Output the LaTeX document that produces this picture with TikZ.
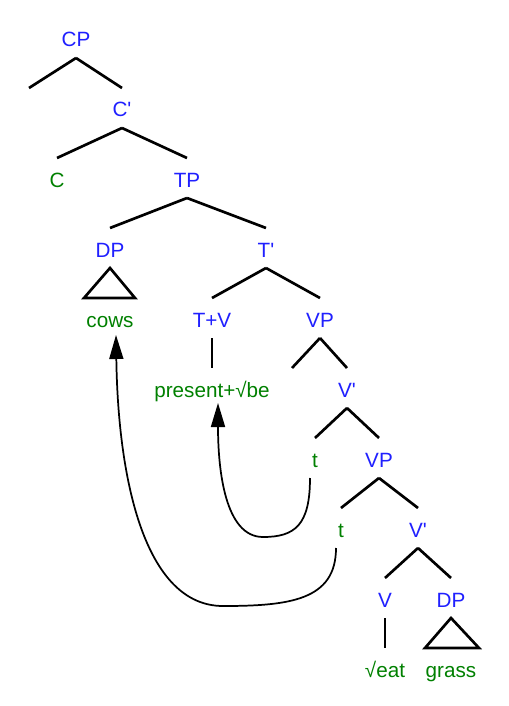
\documentclass[tikz,border=0pt]{standalone}
\usepackage{fontspec}
\newfontfamily\labelfont{Liberation Sans}
\usetikzlibrary{calc,arrows.meta}
\definecolor{catblue}{RGB}{32,32,255}
\definecolor{wordgreen}{RGB}{0,128,0}
\tikzset{
  cat/.style={anchor=base,inner sep=0pt,text=catblue,font=\labelfont\fontsize{15.5pt}{18pt}\selectfont},
  word/.style={anchor=base,inner sep=0pt,text=wordgreen,font=\labelfont\fontsize{15.5pt}{18pt}\selectfont},
  branch/.style={line width=2pt},
  move/.style={line width=1.3pt,-{Triangle[length=18pt,width=10.5pt]}}
}
\newcommand{\br}[2]{\draw[branch] ($(#1.base)+(0,11)$) -- ($(#2.base)+(0,-29)$);}
\begin{document}
\begin{tikzpicture}[x=0.75pt,y=-0.75pt]
\useasboundingbox (0,0) rectangle (508,706);
% nodes
\node[cat] (cp) at (76,47) {CP};
\coordinate (spec) at (29,117);
\node[cat] (cbar) at (122,117) {C'};
\node[word] (c) at (57,187) {C};
\node[cat] (tp) at (187,187) {TP};
\node[cat] (dp1) at (110,257) {DP};
\node[cat] (tbar) at (266,257) {T'};
\node[word] (cows) at (110,327) {cows};
\node[cat] (tv) at (212,327) {T+V};
\node[cat] (vp1) at (320,327) {VP};
\node[word] (pres) at (212,397) {present+\char"221A be};
\coordinate (vpspec) at (292,397);
\node[cat] (vbar1) at (347,397) {V'};
\node[word] (t1) at (315,467) {t};
\node[cat] (vp2) at (379,467) {VP};
\node[word] (t2) at (341,537) {t};
\node[cat] (vbar2) at (418,537) {V'};
\node[cat] (v) at (385,607) {V};
\node[cat] (dp2) at (451,607) {DP};
\node[word] (eat) at (385,677) {\char"221A eat};
\node[word] (grass) at (451,677) {grass};
% branches
\br{cp}{spec}
\br{cp}{cbar}
\br{cbar}{c}
\br{cbar}{tp}
\br{tp}{dp1}
\br{tp}{tbar}
\br{tbar}{tv}
\br{tbar}{vp1}
\br{vp1}{vpspec}
\br{vp1}{vbar1}
\br{vbar1}{t1}
\br{vbar1}{vp2}
\br{vp2}{t2}
\br{vp2}{vbar2}
\br{vbar2}{v}
\br{vbar2}{dp2}
\draw[branch] ($(tv.base)+(0,11)$) -- ($(pres.base)+(0,-29)$);
\draw[branch] ($(v.base)+(0,11)$) -- ($(eat.base)+(0,-29)$);
% triangles
\draw[branch,line join=miter] ($(dp1.base)+(0,11)$) -- ($(cows.base)+(-26,-29)$) -- ($(cows.base)+(25,-29)$) -- cycle;
\draw[branch,line join=miter] ($(dp2.base)+(0,11)$) -- ($(grass.base)+(-26,-29)$) -- ($(grass.base)+(28,-29)$) -- cycle;
% movement arrows
\draw[move] ($(t1.base)+(-5,11)$) .. controls +(0,47) and +(32,0) .. (263,537)
  .. controls +(-38,0) and ($(pres.base)+(6,73)$) .. ($(pres.base)+(6,6)$);
\draw[move] ($(t2.base)+(-5,11)$) .. controls +(0,52) and +(67,0) .. (223,606)
  .. controls +(-78,0) and ($(cows.base)+(8,153)$) .. ($(cows.base)+(6,8)$);
\end{tikzpicture}
\end{document}
